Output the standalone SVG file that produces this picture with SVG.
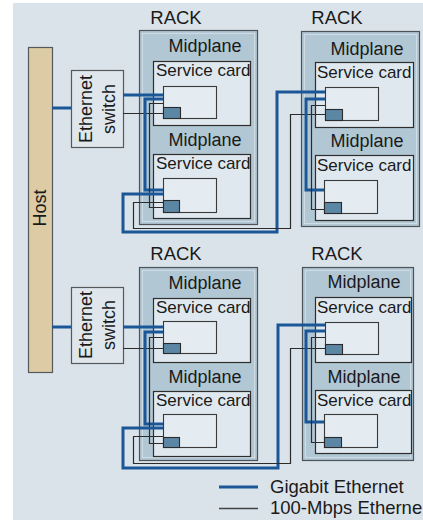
<svg xmlns="http://www.w3.org/2000/svg" width="423" height="520" viewBox="0 0 423 520">
<style>
text{font-family:"Liberation Sans",Arial,sans-serif;fill:#1a1a1a}
.t18{font-size:18.5px}
.mid{font-size:18px;text-anchor:middle}
.sc{font-size:17px}
.rack{fill:#b1c7d4;stroke:#4d5357;stroke-width:1.2}
.frame{fill:none;stroke:#cfdce4;stroke-width:1}
.card{fill:#dfe8ee;stroke:#2e2e2e;stroke-width:1.2}
.board{fill:#e4ecf1;stroke:#3a3a3a;stroke-width:1.1}
.port{fill:#5b87a5;stroke:#2a2a2a;stroke-width:1.1}
.gb{fill:none;stroke:#1b5797;stroke-width:3}
.fe{fill:none;stroke:#2b2b2b;stroke-width:1.2}
.box{fill:#dfe7ed;stroke:#55595c;stroke-width:1.2}
</style>
<rect x="13" y="3" width="410" height="517" fill="#dae3ea"/>

<g id="host">
<rect x="28.5" y="47.5" width="24" height="325" fill="#dccba5" stroke="#55595c" stroke-width="1.2"/>
<text class="mid" transform="translate(46,208) rotate(-90)">Host</text>
</g>

<g id="switch1">
<rect class="box" x="71.5" y="70.5" width="52" height="77"/>
<text class="mid" transform="translate(92,109) rotate(-90)">Ethernet</text>
<text class="mid" transform="translate(115,109) rotate(-90)">switch</text>
</g>
<g id="switch2">
<rect class="box" x="71.5" y="287.5" width="52" height="76"/>
<text class="mid" transform="translate(92,325) rotate(-90)">Ethernet</text>
<text class="mid" transform="translate(115,325) rotate(-90)">switch</text>
</g>

<g id="rack1">
<text class="mid" x="176" y="24" style="font-size:18.5px">RACK</text>
<rect class="rack" x="139.5" y="30.5" width="118" height="194"/>
<rect class="frame" x="142.5" y="33.5" width="112" height="188"/>
<text class="mid" x="205" y="52">Midplane</text>
<rect class="card" x="153.5" y="61.5" width="97" height="64"/>
<text class="sc" x="156" y="76">Service card</text>
<rect class="board" x="163.5" y="86.5" width="53" height="32"/>
<rect class="port" x="163.5" y="107.5" width="17" height="11"/>
<text class="mid" x="205" y="146">Midplane</text>
<rect class="card" x="153.5" y="154.5" width="97" height="64"/>
<text class="sc" x="156" y="169">Service card</text>
<rect class="board" x="163.5" y="178.5" width="53" height="34"/>
<rect class="port" x="163.5" y="200.5" width="16" height="12"/>
</g>

<g id="rack2">
<text class="mid" x="337" y="24" style="font-size:18.5px">RACK</text>
<rect class="rack" x="301.5" y="31.5" width="118" height="195"/>
<rect class="frame" x="304.5" y="34.5" width="112" height="189"/>
<text class="mid" x="367" y="55">Midplane</text>
<rect class="card" x="315.5" y="62.5" width="98" height="65"/>
<text class="sc" x="317" y="78">Service card</text>
<rect class="board" x="325.5" y="87.5" width="53" height="33"/>
<rect class="port" x="325.5" y="109.5" width="17" height="11"/>
<text class="mid" x="367" y="147">Midplane</text>
<rect class="card" x="315.5" y="155.5" width="98" height="65"/>
<text class="sc" x="317" y="171">Service card</text>
<rect class="board" x="324.5" y="180.5" width="53" height="33"/>
<rect class="port" x="324.5" y="202.5" width="17" height="11"/>
</g>

<g id="rack3">
<text class="mid" x="176" y="260" style="font-size:18.5px">RACK</text>
<rect class="rack" x="139.5" y="267.5" width="118" height="193"/>
<rect class="frame" x="142.5" y="270.5" width="112" height="187"/>
<text class="mid" x="205" y="289">Midplane</text>
<rect class="card" x="153.5" y="298.5" width="97" height="64"/>
<text class="sc" x="156" y="313">Service card</text>
<rect class="board" x="163.5" y="321.5" width="53" height="32"/>
<rect class="port" x="163.5" y="343.5" width="17" height="10"/>
<text class="mid" x="205" y="383">Midplane</text>
<rect class="card" x="153.5" y="391.5" width="97" height="65"/>
<text class="sc" x="156" y="406">Service card</text>
<rect class="board" x="163.5" y="414.5" width="53" height="33"/>
<rect class="port" x="163.5" y="437.5" width="16" height="10"/>
</g>

<g id="rack4">
<text class="mid" x="337" y="260" style="font-size:18.5px">RACK</text>
<rect class="rack" x="302.5" y="267.5" width="111" height="193"/>
<rect class="frame" x="305.5" y="270.5" width="105" height="187"/>
<text class="mid" x="364" y="288">Midplane</text>
<rect class="card" x="315.5" y="297.5" width="96" height="65"/>
<text class="sc" x="317" y="313">Service card</text>
<rect class="board" x="325.5" y="322.5" width="53" height="32"/>
<rect class="port" x="325.5" y="344.5" width="17" height="10"/>
<text class="mid" x="364" y="383">Midplane</text>
<rect class="card" x="315.5" y="390.5" width="96" height="63"/>
<text class="sc" x="317" y="406">Service card</text>
<rect class="board" x="324.5" y="414.5" width="53" height="33"/>
<rect class="port" x="324.5" y="437.5" width="17" height="10"/>
</g>

<g id="connectors">
<path class="gb" d="M52,108 H71"/>
<path class="gb" d="M123,95 H163"/>
<path class="fe" d="M123,113.5 H163"/>
<path class="gb" d="M163,99 H145 V190 H163"/>
<path class="fe" d="M163,103.5 H149.5 V207.5 H163"/>
<path class="gb" d="M163,194 H123 V232 H277 V92 H325"/>
<path class="fe" d="M163,202.5 H133.5 V228.5 H290.5 V114.5 H325"/>
<path class="gb" d="M325,99 H306 V190 H324"/>
<path class="fe" d="M325,105.5 H311.5 V209.5 H324"/>

<path class="gb" d="M52,327 H71"/>
<path class="gb" d="M123,327 H163"/>
<path class="fe" d="M123,348.5 H163"/>
<path class="gb" d="M163,332 H145 V424 H163"/>
<path class="fe" d="M163,337.5 H149.5 V443.5 H163"/>
<path class="gb" d="M163,428 H123 V468 H278 V325 H325"/>
<path class="fe" d="M163,436.5 H133.5 V463.5 H290.5 V348.5 H325"/>
<path class="gb" d="M325,331 H306 V422 H324"/>
<path class="fe" d="M325,337.5 H311.5 V442.5 H324"/>
</g>

<g id="legend">
<path class="gb" d="M219,487 H258"/>
<text class="t18" x="270" y="493">Gigabit Ethernet</text>
<path class="fe" d="M219,508.5 H258" style="stroke:#444;stroke-width:1.4"/>
<text class="t18" x="270" y="514">100-Mbps Etherne</text>
</g>
</svg>
